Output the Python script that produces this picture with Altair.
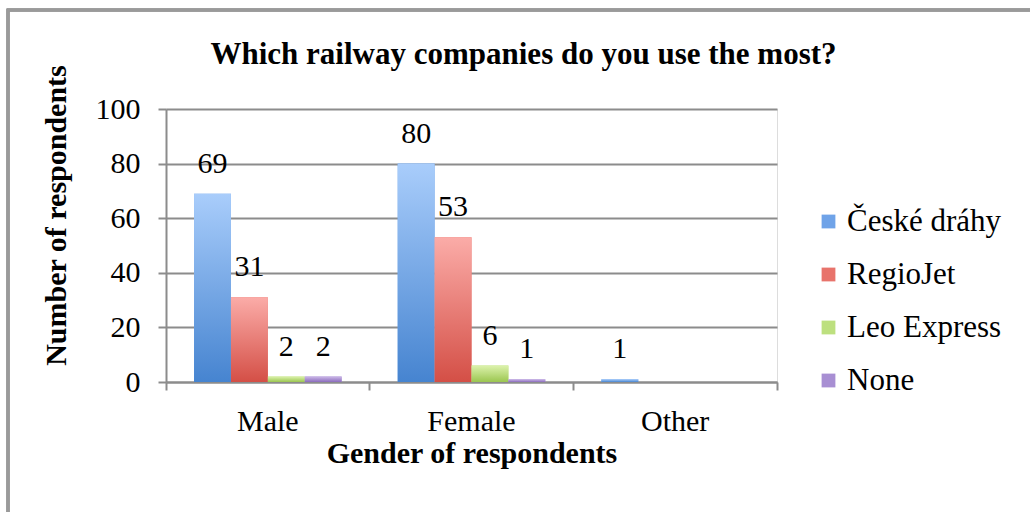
import altair as alt
import pandas as pd

# Survey results: which railway company respondents use the most, by gender
genders = ["Male", "Female", "Other"]
companies = ["České dráhy", "RegioJet", "Leo Express", "None"]
ceske_drahy = [69, 80, 1]
regiojet = [31, 53, 0]
leo_express = [2, 6, 0]
none_ = [2, 1, 0]

series = [ceske_drahy, regiojet, leo_express, none_]
rows = []
for comp, vals in zip(companies, series):
    for g, v in zip(genders, vals):
        rows.append({"gender": g, "company": comp, "count": v})
df = pd.DataFrame(rows)

# Light-to-dark vertical gradient per company (top, bottom), plus a mid tone for the legend
gradients = {
    "České dráhy": ("#a9cdfb", "#4684d0"),
    "RegioJet": ("#fbaca8", "#d44f46"),
    "Leo Express": ("#dcf2ac", "#9bc650"),
    "None": ("#ccb8e8", "#8b6cbd"),
}
legend_colors = ["#6fa3e8", "#e8736b", "#bde07f", "#a88fd3"]

FONT = "Liberation Serif"
GRAY = "#8c8c8c"

x_enc = alt.X(
    "gender:N",
    sort=genders,
    scale=alt.Scale(paddingInner=0, paddingOuter=0),
    axis=alt.Axis(
        title="Gender of respondents",
        labelAngle=0,
        bandPosition=1,
        tickExtra=True,
        tickSize=8,
        tickColor=GRAY,
        tickWidth=2,
        domainColor=GRAY,
        domainWidth=2,
        labelFont=FONT,
        labelFontSize=30,
        labelColor="black",
        labelPadding=16,
        titleFont=FONT,
        titleFontSize=30,
        titleFontWeight="bold",
        titleColor="black",
        titlePadding=2,
    ),
)
xoff_enc = alt.XOffset(
    "company:N",
    sort=companies,
    scale=alt.Scale(domain=companies, paddingInner=0, paddingOuter=0.76),
)
y_enc = alt.Y(
    "count:Q",
    scale=alt.Scale(domain=[0, 100], nice=False),
    axis=alt.Axis(
        title="Number of respondents",
        values=[0, 20, 40, 60, 80, 100],
        grid=True,
        gridColor=GRAY,
        gridWidth=2,
        domainColor=GRAY,
        domainWidth=2,
        tickColor=GRAY,
        tickWidth=2,
        tickSize=8,
        labelFont=FONT,
        labelFontSize=30,
        labelColor="black",
        labelPadding=18,
        titleFont=FONT,
        titleFontSize=30,
        titleFontWeight="bold",
        titleColor="black",
        titlePadding=24,
        titleY=106,
    ),
)

base = alt.Chart(df).transform_filter("datum.count > 0")

# Solid bars carrying the legend; the gradient bars are drawn over them
legend_bars = base.mark_bar().encode(
    x=x_enc,
    xOffset=xoff_enc,
    y=y_enc,
    color=alt.Color(
        "company:N",
        sort=companies,
        scale=alt.Scale(domain=companies, range=legend_colors),
        legend=alt.Legend(
            title=None,
            orient="none",
            legendX=647,
            legendY=97,
            symbolType="square",
            symbolSize=190,
            symbolStrokeWidth=0,
            labelFont=FONT,
            labelFontSize=31,
            labelColor="black",
            labelOffset=3,
            rowPadding=21,
        ),
    ),
)

layers = [legend_bars]
for comp in companies:
    top, bottom = gradients[comp]
    grad = alt.Gradient(
        gradient="linear",
        x1=0, x2=0, y1=0, y2=1,
        stops=[
            alt.GradientStop(color=top, offset=0),
            alt.GradientStop(color=bottom, offset=1),
        ],
    )
    layers.append(
        base.transform_filter(alt.datum.company == comp)
        .mark_bar(fill=grad)
        .encode(x=x_enc, xOffset=xoff_enc, y=y_enc)
    )

labels = base.mark_text(
    baseline="bottom", dy=-15, font=FONT, fontSize=30, color="black"
).encode(x=x_enc, xOffset=xoff_enc, y=y_enc, text="count:Q")
layers.append(labels)

# Light gray frame around the whole figure
frame = alt.Chart(df).mark_rect(
    fill=None, stroke="#9a9a9a", strokeWidth=2.5, clip=False
).encode(
    x=alt.value(-158), x2=alt.value(880),
    y=alt.value(-99), y2=alt.value(420),
)
layers.append(frame)

chart = alt.layer(*layers).properties(
    width=611,
    height=273,
    title=alt.TitleParams(
        "Which railway companies do you use the most?",
        font=FONT,
        fontSize=31,
        fontWeight="bold",
        color="black",
        anchor="middle",
        dx=52,
        offset=-62,
    ),
    autosize=alt.AutoSizeParams(type="none"),
    padding={"left": 166, "top": 109, "right": 253, "bottom": 130},
).configure_view(stroke=None).configure(background="white")

chart.save("out.html", embed_options={"renderer": "svg", "actions": False})
